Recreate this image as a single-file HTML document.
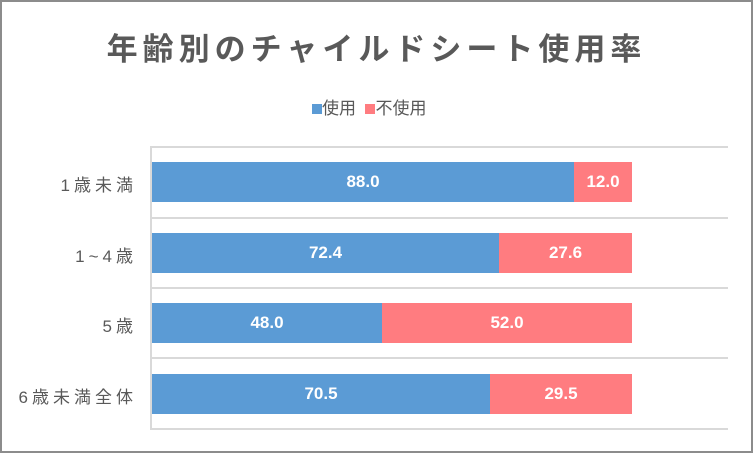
<!DOCTYPE html><html><head><meta charset="utf-8"><style>
body{margin:0;width:753px;height:453px;overflow:hidden;background:#fff;font-family:"Liberation Sans","Noto Sans CJK JP",sans-serif}
.frame{position:absolute;left:0;top:0;width:749px;height:449px;border:2px solid #8c8c8c;background:#fff}
.a{position:absolute}
.t{left:0;width:753px;top:24px;text-align:center;font-size:31px;font-weight:bold;color:#595959;letter-spacing:5px}
.g{height:2px;background:#d9d9d9;left:151px;width:577px}
.b{height:40px;color:#fff;font-weight:bold;font-size:17px;line-height:40px;text-align:center}
.bl{background:#5b9bd5}.rd{background:#ff7c80}
.lab{right:616px;font-size:17px;color:#595959;letter-spacing:4px;text-align:right;white-space:nowrap}
</style></head><body><div class="frame"></div>
<div class="a t">年齢別のチャイルドシート使用率</div>
<div class="a" style="left:312px;top:94px;font-size:17px;color:#595959;white-space:nowrap"><span style="display:inline-block;width:10px;height:10px;background:#5b9bd5"></span>使用 &nbsp;<span style="display:inline-block;width:10px;height:10px;background:#ff7c80"></span>不使用</div>
<div class="a" style="left:150px;top:146px;width:2px;height:284px;background:#d9d9d9"></div>
<div class="a g" style="top:146px"></div><div class="a g" style="top:217px"></div><div class="a g" style="top:287px"></div><div class="a g" style="top:357px"></div><div class="a g" style="top:428px"></div>
<div class="a b bl" style="left:152px;top:162px;width:422px">88.0</div><div class="a b rd" style="left:574px;top:162px;width:58px">12.0</div>
<div class="a b bl" style="left:152px;top:233px;width:347px">72.4</div><div class="a b rd" style="left:499px;top:233px;width:133px">27.6</div>
<div class="a b bl" style="left:152px;top:303px;width:230px">48.0</div><div class="a b rd" style="left:382px;top:303px;width:250px">52.0</div>
<div class="a b bl" style="left:152px;top:374px;width:338px">70.5</div><div class="a b rd" style="left:490px;top:374px;width:142px">29.5</div>
<div class="a lab" style="top:171px">1歳未満</div>
<div class="a lab" style="top:242px">1~4歳</div>
<div class="a lab" style="top:312px">5歳</div>
<div class="a lab" style="top:383px">6歳未満全体</div>
</body></html>
